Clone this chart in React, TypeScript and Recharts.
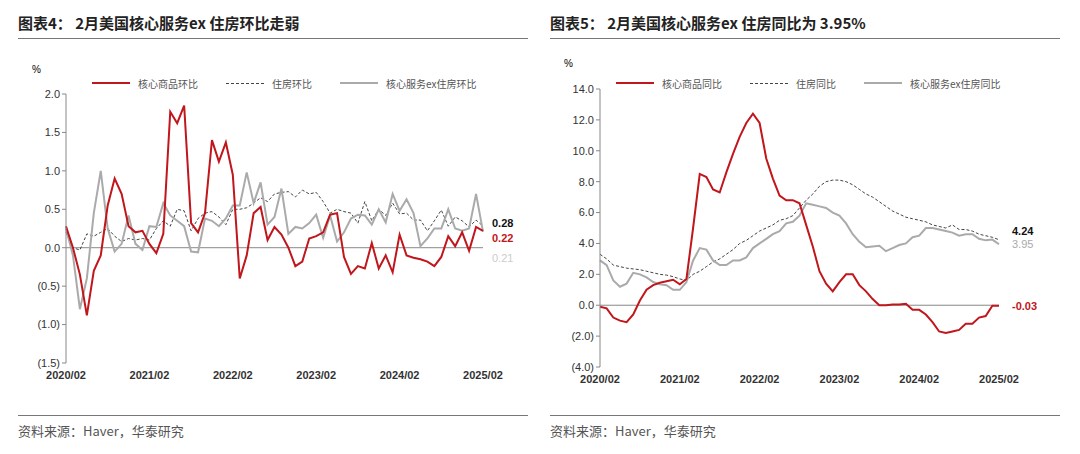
import React from "react";
import { LineChart, Line, XAxis, YAxis, ReferenceLine } from "recharts";

const months = Array.from({ length: 61 }, (_, i) => {
  const m = (i + 1) % 12 + 1;
  const y = 2020 + Math.floor((i + 1) / 12);
  return `${y}/${String(m).padStart(2, "0")}`;
});
const xTicks = [0, 12, 24, 36, 48, 60];

// chart 4: MoM
const goodsMoM = [0.28, 0.0, -0.35, -0.88, -0.3, -0.1, 0.55, 0.9, 0.7, 0.28, 0.2, 0.22, 0.05, -0.07, 0.18, 1.77, 1.62, 1.85, 0.32, 0.2, 0.45, 1.4, 1.12, 1.37, 0.95, -0.4, -0.1, 0.45, 0.53, 0.1, 0.27, 0.17, 0.0, -0.24, -0.18, 0.12, 0.15, 0.2, 0.43, 0.45, -0.12, -0.34, -0.24, -0.27, 0.06, -0.27, -0.1, -0.32, 0.17, -0.1, -0.13, -0.15, -0.18, -0.24, -0.12, 0.15, 0.02, 0.2, -0.04, 0.27, 0.22];
const shelterMoM = [0.2, 0.0, -0.03, 0.18, 0.15, 0.2, 0.25, 0.15, 0.08, 0.12, 0.1, 0.12, 0.1, 0.25, 0.35, 0.28, 0.5, 0.48, 0.22, 0.38, 0.45, 0.47, 0.4, 0.3, 0.5, 0.5, 0.52, 0.58, 0.65, 0.6, 0.7, 0.72, 0.73, 0.66, 0.75, 0.7, 0.72, 0.6, 0.45, 0.5, 0.47, 0.45, 0.32, 0.6, 0.35, 0.5, 0.42, 0.58, 0.44, 0.45, 0.36, 0.36, 0.22, 0.35, 0.49, 0.28, 0.4, 0.35, 0.27, 0.36, 0.28];
const superMoM = [0.25, -0.1, -0.8, -0.4, 0.45, 1.0, 0.25, -0.05, 0.05, 0.42, 0.05, -0.03, 0.28, 0.27, 0.58, 0.42, 0.35, 0.28, -0.05, -0.06, 0.38, 0.35, 0.28, 0.38, 0.55, 0.55, 0.98, 0.58, 0.85, 0.3, 0.4, 0.77, 0.18, 0.27, 0.25, 0.32, 0.43, 0.13, 0.42, 0.08, 0.2, 0.38, 0.43, 0.42, 0.3, 0.5, 0.33, 0.7, 0.48, 0.63, 0.45, 0.02, 0.12, 0.25, 0.25, 0.5, 0.25, 0.22, 0.25, 0.7, 0.21];

// chart 5: YoY
const goodsYoY = [-0.1, -0.2, -0.8, -1.0, -1.1, -0.6, 0.3, 1.0, 1.3, 1.45, 1.55, 1.65, 1.35, 1.7, 5.0, 8.5, 8.3, 7.5, 7.3, 8.6, 9.8, 10.9, 11.8, 12.4, 11.8, 9.5, 8.2, 7.1, 6.8, 6.8, 6.6, 5.2, 3.8, 2.2, 1.4, 0.9, 1.5, 2.0, 2.0, 1.3, 0.9, 0.4, 0.0, 0.0, 0.05, 0.05, 0.1, -0.3, -0.3, -0.6, -1.1, -1.7, -1.8, -1.7, -1.6, -1.2, -1.2, -0.8, -0.7, -0.03, -0.03];
const shelterYoY = [3.3, 3.0, 2.6, 2.5, 2.4, 2.35, 2.3, 2.2, 2.1, 2.0, 1.95, 1.85, 1.7, 1.6, 2.0, 2.2, 2.5, 2.8, 3.0, 3.3, 3.6, 4.0, 4.2, 4.5, 4.8, 5.0, 5.2, 5.5, 5.6, 5.8, 6.3, 6.8, 7.2, 7.7, 8.0, 8.1, 8.1, 8.0, 7.8, 7.5, 7.2, 7.0, 6.7, 6.4, 6.1, 5.9, 5.7, 5.6, 5.5, 5.4, 5.2, 5.1, 5.0, 5.2, 4.9, 4.9, 4.8, 4.6, 4.5, 4.4, 4.24];
const superYoY = [2.9, 2.6, 1.6, 1.2, 1.4, 2.1, 2.0, 1.8, 1.5, 1.35, 1.3, 1.0, 1.0, 1.5, 2.9, 3.7, 3.6, 2.9, 2.6, 2.6, 2.9, 2.9, 3.1, 3.7, 4.0, 4.3, 4.6, 4.8, 5.3, 5.4, 5.8, 6.6, 6.5, 6.4, 6.3, 6.0, 5.8, 5.3, 4.6, 4.1, 3.75, 3.8, 3.85, 3.5, 3.7, 3.9, 4.0, 4.4, 4.5, 5.0, 5.0, 4.9, 4.8, 4.7, 4.5, 4.6, 4.6, 4.3, 4.2, 4.25, 3.95];

const momData = months.map((m, i) => ({ i, a: goodsMoM[i], b: shelterMoM[i], c: superMoM[i] }));
const yoyData = months.map((m, i) => ({ i, a: goodsYoY[i], b: shelterYoY[i], c: superYoY[i] }));

const RED = "#C0161C";
const GRAY = "#AAAAAA";
const font = "'Liberation Sans', Arial, sans-serif";
const fmt = (d: number) => (v: number) => (v < 0 ? `(${Math.abs(v).toFixed(d)})` : v.toFixed(d));
const tick = { fontSize: 11, fill: "#333", fontFamily: font };

function Legend({ labels, left }: { labels: string[]; left: number }) {
  const item = (stroke: React.ReactNode, text: string) => (
    <span style={{ display: "inline-flex", alignItems: "center", marginRight: 28 }}>
      {stroke}
      <span style={{ marginLeft: 8 }}>{text}</span>
    </span>
  );
  return (
    <div style={{ position: "absolute", left, top: 72, fontSize: 10, color: "#555", fontFamily: "'Noto Sans CJK SC'", whiteSpace: "nowrap" }}>
      {item(<span style={{ width: 38, borderTop: `2px solid ${RED}` }} />, labels[0])}
      {item(<span style={{ width: 38, borderTop: "1px dashed #444" }} />, labels[1])}
      {item(<span style={{ width: 38, borderTop: `2px solid ${GRAY}` }} />, labels[2])}
    </div>
  );
}

function Panel(props: {
  left: number; width: number; data: any[]; domain: [number, number]; ticks: number[]; dec: number;
  yW: number; right: number; top: number; bottom: number;
}) {
  const { left, width, data, domain, ticks, dec, yW, right, top, bottom } = props;
  return (
    <div style={{ position: "absolute", left, top: 60 }}>
      <LineChart width={width} height={330} data={data} margin={{ top, right, bottom, left: 0 }}>
        <XAxis dataKey="i" type="number" domain={[0, 60]} ticks={xTicks} tickFormatter={(v) => months[v]}
          tick={{ ...tick, fontWeight: "bold" }} axisLine={false} tickLine={false} height={20} />
        <YAxis domain={domain} ticks={ticks} tickFormatter={fmt(dec)} tick={tick} width={yW}
          axisLine={{ stroke: "#888" }} tickLine={{ stroke: "#888" }} tickSize={4} interval={0} />
        <ReferenceLine y={0} stroke="#888" strokeWidth={1} />
        <Line dataKey="b" stroke="#444" strokeWidth={1} strokeDasharray="3 2" dot={false} isAnimationActive={false} />
        <Line dataKey="c" stroke={GRAY} strokeWidth={2} dot={false} isAnimationActive={false} />
        <Line dataKey="a" stroke={RED} strokeWidth={2} dot={false} isAnimationActive={false} />
      </LineChart>
    </div>
  );
}

const Title = ({ left, text }: { left: number; text: string }) => (
  <>
    <div style={{ position: "absolute", left, top: 12, fontSize: 15, fontWeight: "bold", color: "#222", fontFamily: "'Noto Sans CJK SC'" }}>{text}</div>
    <div style={{ position: "absolute", left, top: 38, width: 510, borderTop: "1px solid #777" }} />
    <div style={{ position: "absolute", left, top: 415, width: 510, borderTop: "1px solid #777" }} />
    <div style={{ position: "absolute", left, top: 421, fontSize: 13, color: "#555", fontFamily: "'Noto Sans CJK SC'" }}>资料来源：Haver，华泰研究</div>
  </>
);

const Lab = ({ x, y, c, t, bold = true }: { x: number; y: number; c: string; t: string; bold?: boolean }) => (
  <div style={{ position: "absolute", left: x, top: y, fontSize: 11, color: c, fontWeight: bold ? "bold" : "normal", fontFamily: font }}>{t}</div>
);

export default function App() {
  return (
    <div style={{ position: "absolute", left: 0, top: 0, width: 1080, height: 454, background: "#fff" }}>
      <Title left={18} text="图表4：  2月美国核心服务ex 住房环比走弱" />
      <Title left={550} text="图表5：  2月美国核心服务ex 住房同比为 3.95%" />
      <div style={{ position: "absolute", left: 32, top: 64, fontSize: 10, fontFamily: font }}>%</div>
      <div style={{ position: "absolute", left: 564, top: 58, fontSize: 10, fontFamily: font }}>%</div>
      <Legend left={92} labels={["核心商品环比", "住房环比", "核心服务ex住房环比"]} />
      <Legend left={616} labels={["核心商品同比", "住房同比", "核心服务ex住房同比"]} />
      <Panel left={20} width={505} data={momData} domain={[-1.5, 2]} ticks={[-1.5, -1, -0.5, 0, 0.5, 1, 1.5, 2]} dec={1}
        yW={46} right={42} top={34} bottom={7} />
      <Panel left={550} width={510} data={yoyData} domain={[-4, 14]} ticks={[-4, -2, 0, 2, 4, 6, 8, 10, 12, 14]} dec={1}
        yW={50} right={61} top={29} bottom={3} />
      <Lab x={492} y={217} c="#111" t="0.28" />
      <Lab x={492} y={232} c={RED} t="0.22" />
      <Lab x={492} y={252} c="#ccc" t="0.21" bold={false} />
      <Lab x={1012} y={225} c="#111" t="4.24" />
      <Lab x={1012} y={238} c={GRAY} t="3.95" bold={false} />
      <Lab x={1012} y={300} c={RED} t="-0.03" />
    </div>
  );
}
